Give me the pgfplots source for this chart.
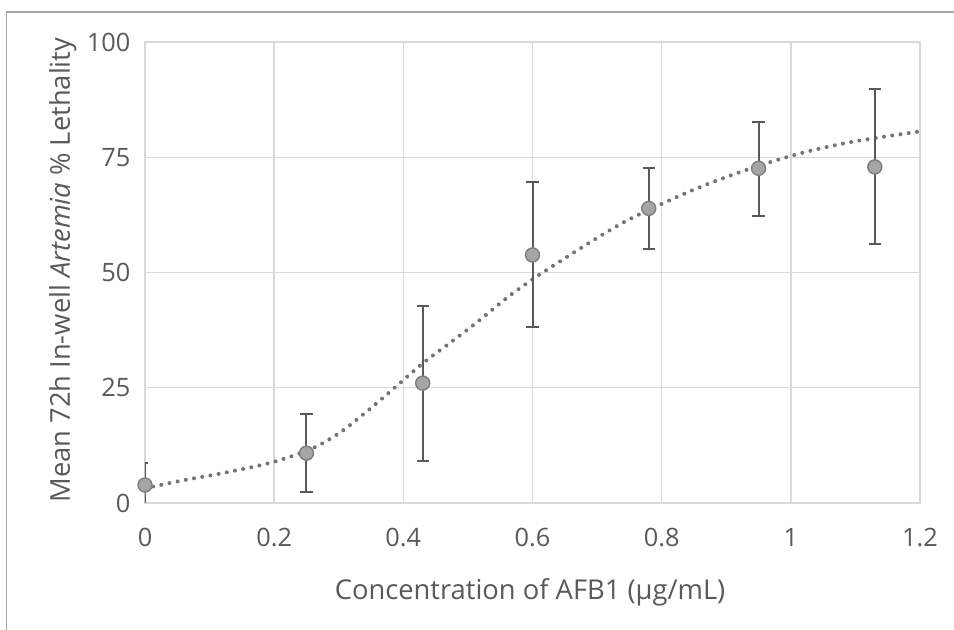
\documentclass[border=0pt]{standalone}
\usepackage{fontspec}
\setmainfont{Open Sans}
\usepackage{pgfplots}
\usepackage{pgfplotstable}
\pgfplotsset{compat=1.18}
\definecolor{gridc}{HTML}{D9D9D9}
\definecolor{txtc}{HTML}{595959}
\definecolor{markfill}{HTML}{A5A5A5}
\definecolor{markedge}{HTML}{7F7F7F}
\definecolor{errc}{HTML}{595959}
\definecolor{fitc}{HTML}{737373}
\definecolor{framec}{HTML}{A6A6A6}

\tikzset{ebar/.style={errc, line width=1.5pt}}

% half cap for the bar that sits on the left edge (turned by the y error bars)
\pgfdeclareplotmark{halfbar}{%
  \pgfpathmoveto{\pgfpointorigin}%
  \pgfpathlineto{\pgfqpoint{0pt}{-\pgfplotmarksize}}%
  \pgfusepathqstroke}

% mean lethality with error (plus / minus)
\pgfplotstableread{
x     y     ep    em
0.25  10.8  8.5   8.4
0.43  26.0  16.8  16.8
0.60  53.8  15.8  15.7
0.78  63.9  8.8   8.7
0.95  72.6  10.1  10.3
1.13  72.9  16.8  16.8
}\meandata

\pgfplotstableread{
x     y     ep    em
0     3.9   4.8   3.9
}\zerodata

% fitted curve
\pgfplotstableread{
x      y
0      3.2
0.062  5.0
0.125  6.6
0.199  8.9
0.26   11.9
0.302  15.3
0.343  19.8
0.384  24.7
0.431  30.4
0.472  34.7
0.514  39.2
0.563  44.8
0.604  48.9
0.627  51.0
0.692  56.8
0.748  61.4
0.816  65.9
0.875  69.4
0.947  73.0
1.019  76.0
1.097  78.4
1.2    80.6
}\fitdata

\pgfplotsset{
  common/.style={
    scale only axis, width=581.25pt, height=345.75pt,
    at={(108.75pt,95.25pt)}, anchor=south west,
    xmin=0, xmax=1.2, ymin=0, ymax=100,
  },
}

\begin{document}
\begin{tikzpicture}
\path[use as bounding box] (0,0) rectangle (715.5pt,472.5pt);
\draw[framec, line width=1pt] (5pt,-5pt) -- (5pt,463.5pt) -- (725pt,463.5pt);

\begin{axis}[common,
    xtick={0,0.2,0.4,0.6,0.8,1,1.2},
    ytick={0,25,50,75,100},
    grid=major,
    grid style={gridc, line width=1.1pt},
    axis line style={gridc, line width=1.1pt},
    major tick length=0pt,
    /pgf/number format/assume math mode=true,
    tick label style={font=\fontsize{19}{23}\selectfont, text=txtc},
    xticklabel style={yshift=-15.5pt},
    yticklabel style={xshift=-7.5pt},
    xlabel={Concentration of AFB1 (µg/mL)},
    ylabel={Mean 72h In-well \textit{Artemia} \% Lethality},
    label style={font=\fontsize{20.5}{24}\selectfont, text=txtc},
    xlabel style={at={(axis description cs:0.4968,-0.2104)}, anchor=base},
    ylabel style={at={(axis description cs:-0.0968,0.505)}, anchor=base},
]
\addplot[fitc, line width=3pt, line cap=round, dash pattern=on 0pt off 6.25pt, smooth]
    table[x=x, y=y] {\fitdata};
\addplot[draw=none, mark=none,
    error bars/.cd, y dir=both, y explicit,
    error bar style={ebar},
    error mark options={rotate=90, mark size=4.6pt, ebar}]
    table[x=x, y=y, y error plus=ep, y error minus=em] {\meandata};
% first point: the bar is cut by the left and bottom edges
\addplot[draw=none, mark=none,
    error bars/.cd, y dir=plus, y explicit,
    error bar style={ebar},
    error mark=halfbar, error mark options={mark size=4.6pt, ebar}]
    table[x=x, y=y, y error plus=ep] {\zerodata};
\addplot[draw=none, mark=none,
    error bars/.cd, y dir=minus, y explicit,
    error bar style={ebar}, error mark=none]
    table[x=x, y=y, y error minus=em] {\zerodata};
\end{axis}

\begin{axis}[common, hide axis, clip=false]
\addplot[only marks, mark=*, mark size=5.25pt,
    mark options={fill=markfill, draw=markedge, line width=1.1pt}]
    table[x=x, y=y] {\meandata};
\addplot[only marks, mark=*, mark size=5.25pt,
    mark options={fill=markfill, draw=markedge, line width=1.1pt}]
    table[x=x, y=y] {\zerodata};
\end{axis}
\end{tikzpicture}
\end{document}
